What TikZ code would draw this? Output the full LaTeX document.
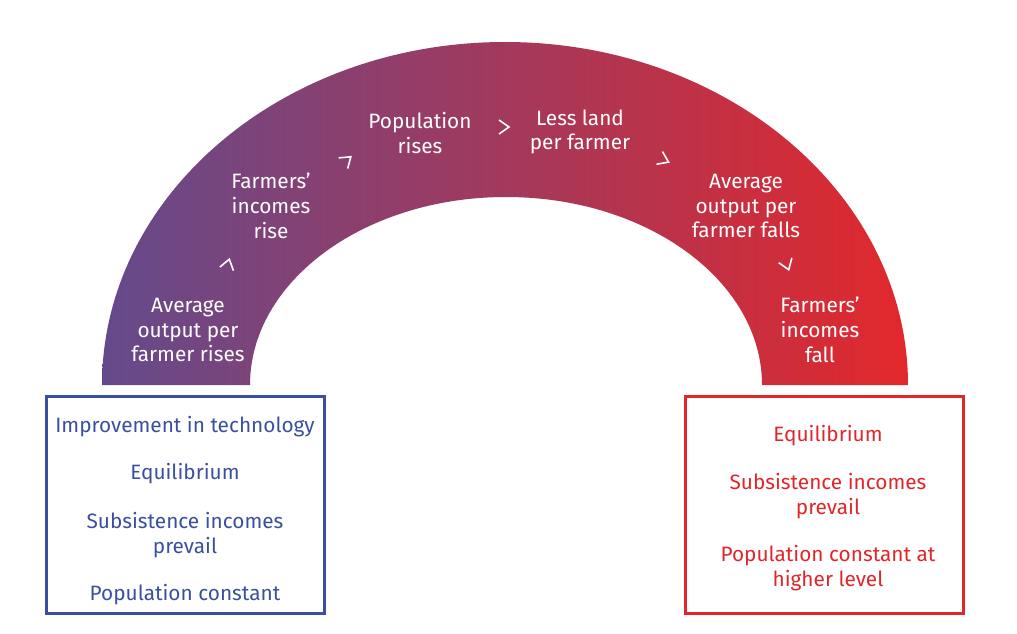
\documentclass[tikz,border=0pt]{standalone}
\usepackage{fontspec}
\setmainfont{Fira Sans}
\begin{document}
\begin{tikzpicture}[x=0.5pt,y=-0.5pt,
  lab/.style={text=white,align=center,font=\fontsize{10.4}{12.4}\selectfont},
  bt/.style={text=bluec,align=center,font=\fontsize{10.4}{12.4}\selectfont},
  rt/.style={text=redc,align=center,font=\fontsize{10.4}{12.4}\selectfont},
  chev/.pic={\draw[white,line width=0.8pt] (-5,-7)--(5,0)--(-5,7);}]
\definecolor{bluec}{RGB}{58,79,160}
\definecolor{redc}{RGB}{224,38,42}
\definecolor{purp}{RGB}{100,74,140}
\definecolor{midc}{RGB}{165,65,100}
\definecolor{redg}{RGB}{226,40,44}
\useasboundingbox (0,0) rectangle (1017,633);
\shade[left color=purp,middle color=midc,right color=redg]
  (102,385) arc[start angle=180,end angle=360,x radius=403,y radius=343]
  -- (762,385) arc[start angle=360,end angle=180,x radius=256,y radius=188] -- cycle;
\node[lab] (a1) at (188,330) {Average\\output per\\farmer rises};
\node[lab] (a2) at (271,206) {Farmers’\\incomes\\rise};
\node[lab] (a3) at (420,133) {Population\\rises};
\node[lab] (a4) at (580,132) {Less land\\per farmer};
\node[lab] (a5) at (746,206) {Average\\output per\\farmer falls};
\node[lab] (a6) at (820,330) {Farmers’\\incomes\\fall};
\pic[rotate=75] at (228,264) {chev};
\pic[rotate=40] at (347,160) {chev};
\pic at (504,127) {chev};
\pic[rotate=-25] at (664,160) {chev};
\pic[rotate=-70] at (787,265) {chev};
\draw[bluec,line width=1.5pt] (46,396) rectangle (324,613);
\draw[redc,line width=1.5pt] (685,396) rectangle (963,613);
\node[bt] (b1) at (185,427) {Improvement in technology};
\node[bt] (b2) at (185,474) {Equilibrium};
\node[bt] (b3) at (185,535) {Subsistence incomes\\prevail};
\node[bt] (b4) at (185,595) {Population constant};
\node[rt] (r1) at (828,436) {Equilibrium};
\node[rt] (r2) at (828,496) {Subsistence incomes\\prevail};
\node[rt] (r3) at (828,568) {Population constant at\\higher level};
\end{tikzpicture}
\end{document}
